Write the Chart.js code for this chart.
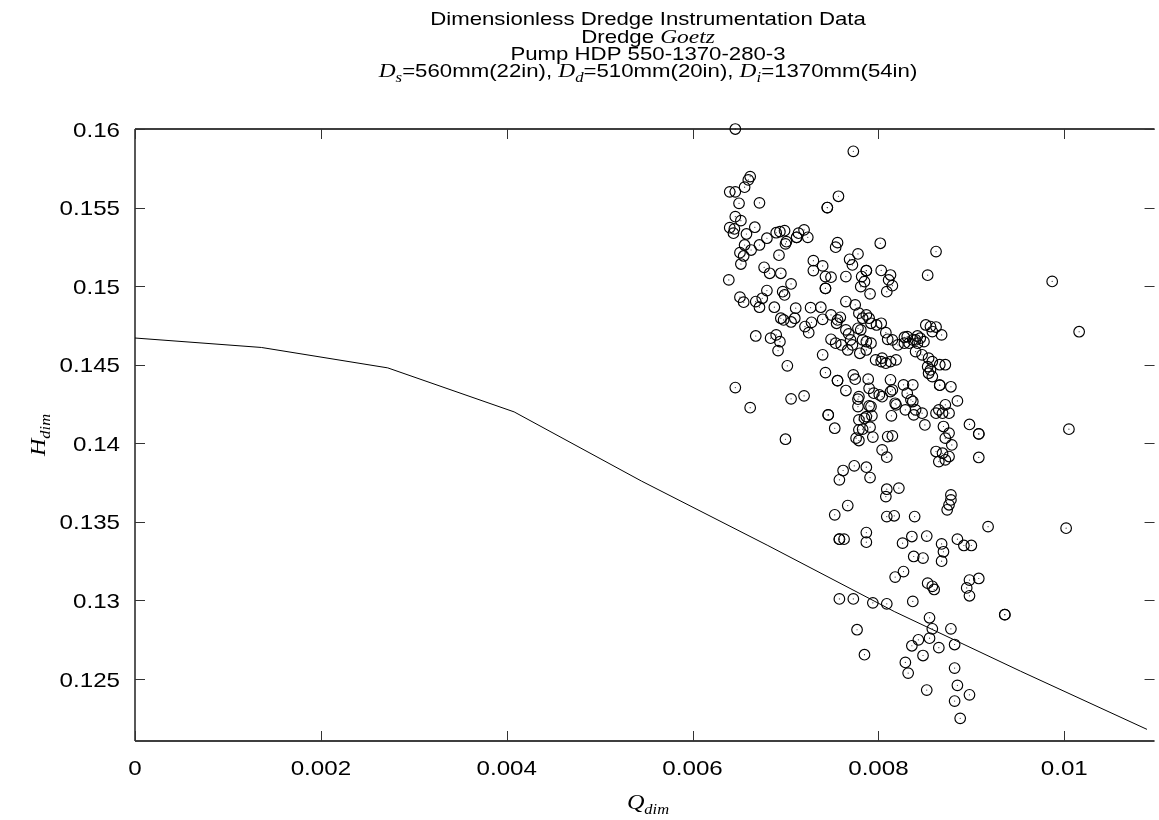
<!DOCTYPE html>
<html>
<head>
<meta charset="utf-8">
<script src="https://cdn.jsdelivr.net/npm/chart.js@4/dist/chart.umd.min.js"></script>
<style>
  html, body { margin: 0; padding: 0; background: #fff; }
  #wrap { width: 1159px; height: 820px; position: relative; }
</style>
</head>
<body>
<div id="wrap"><canvas id="c"></canvas></div>
<script>
// Axis ticks
const xTickValues = [0, 0.002, 0.004, 0.006, 0.008, 0.01];
const xTickLabels = ['0', '0.002', '0.004', '0.006', '0.008', '0.01'];
const yTickValues = [0.125, 0.13, 0.135, 0.14, 0.145, 0.15, 0.155, 0.16];
const yTickLabels = ['0.125', '0.13', '0.135', '0.14', '0.145', '0.15', '0.155', '0.16'];

// Pump characteristic curve (dimensionless flow, dimensionless head)
const pumpQ = [0, 0.00136, 0.00272, 0.00408, 0.00545, 0.00681, 0.00817, 0.00953, 0.01089];
const pumpH = [0.1467, 0.1461, 0.1448, 0.1420, 0.1376, 0.1335, 0.1293, 0.1255, 0.1218];

// Instrumentation readings [Q_dim, H_dim]
const measuredPoints = [
  [0.00646,0.16000],[0.00773,0.15858],[0.00662,0.15697],[0.00660,0.15676],[0.00656,0.15630],
  [0.00640,0.15600],[0.00646,0.15600],[0.00650,0.15527],[0.00672,0.15530],[0.00757,0.15572],
  [0.00745,0.15500],[0.00745,0.15500],[0.00646,0.15442],[0.00652,0.15417],[0.00640,0.15372],
  [0.00645,0.15364],[0.00644,0.15337],[0.00658,0.15332],[0.00667,0.15375],[0.00672,0.15262],
  [0.00656,0.15262],[0.00651,0.15213],[0.00655,0.15192],[0.00663,0.15230],[0.00652,0.15141],
  [0.00680,0.15305],[0.00690,0.15340],[0.00694,0.15347],[0.00699,0.15353],[0.00701,0.15283],
  [0.00700,0.15269],[0.00712,0.15311],[0.00712,0.15311],[0.00714,0.15337],[0.00720,0.15358],
  [0.00724,0.15311],[0.00693,0.15197],[0.00756,0.15277],[0.00754,0.15248],[0.00802,0.15273],
  [0.00778,0.15205],[0.00769,0.15171],[0.00772,0.15135],[0.00787,0.15099],[0.00787,0.15099],
  [0.00803,0.15100],[0.00813,0.15071],[0.00811,0.15040],[0.00815,0.15003],[0.00809,0.14965],
  [0.00730,0.15162],[0.00730,0.15099],[0.00740,0.15129],[0.00743,0.15061],[0.00749,0.15057],
  [0.00743,0.14986],[0.00743,0.14986],[0.00765,0.15061],[0.00782,0.15061],[0.00781,0.14997],
  [0.00785,0.15029],[0.00791,0.14951],[0.00677,0.15120],[0.00683,0.15082],[0.00695,0.15082],
  [0.00639,0.15040],[0.00706,0.15014],[0.00697,0.14965],[0.00699,0.14944],[0.00651,0.14930],
  [0.00655,0.14898],[0.00668,0.14902],[0.00672,0.14866],[0.00675,0.14923],[0.00680,0.14972],
  [0.00688,0.14866],[0.00711,0.14860],[0.00727,0.14863],[0.00738,0.14866],[0.00740,0.14789],
  [0.00728,0.14770],[0.00749,0.14817],[0.00759,0.14802],[0.00755,0.14764],[0.00695,0.14796],
  [0.00698,0.14785],[0.00706,0.14772],[0.00710,0.14796],[0.00668,0.14683],[0.00684,0.14669],
  [0.00690,0.14690],[0.00694,0.14647],[0.00692,0.14590],[0.00721,0.14743],[0.00725,0.14704],
  [0.00749,0.14662],[0.00760,0.14626],[0.00740,0.14563],[0.00765,0.14722],[0.00768,0.14696],
  [0.00770,0.14658],[0.00772,0.14626],[0.00778,0.14732],[0.00781,0.14722],[0.00783,0.14658],
  [0.00787,0.14647],[0.00792,0.14764],[0.00798,0.14753],[0.00803,0.14764],[0.00808,0.14704],
  [0.00810,0.14662],[0.00815,0.14658],[0.00821,0.14626],[0.00828,0.14675],[0.00833,0.14637],
  [0.00837,0.14658],[0.00840,0.14658],[0.00765,0.14902],[0.00775,0.14881],[0.00779,0.14828],
  [0.00783,0.14796],[0.00790,0.14796],[0.00787,0.14817],[0.00756,0.14785],[0.00754,0.14637],
  [0.00792,0.14637],[0.00767,0.14594],[0.00780,0.14573],[0.00787,0.14594],[0.00797,0.14531],
  [0.00803,0.14520],[0.00808,0.14510],[0.00813,0.14520],[0.00819,0.14531],[0.00804,0.14542],
  [0.00828,0.14637],[0.00831,0.14679],[0.00842,0.14683],[0.00845,0.14669],[0.00849,0.14647],
  [0.00842,0.14637],[0.00851,0.14753],[0.00856,0.14743],[0.00858,0.14711],[0.00840,0.14584],
  [0.00847,0.14563],[0.00854,0.14542],[0.00858,0.14520],[0.00853,0.14488],[0.00856,0.14467],
  [0.00854,0.14446],[0.00858,0.14425],[0.00779,0.14297],[0.00804,0.14297],[0.00813,0.14404],
  [0.00815,0.14340],[0.00835,0.14277],[0.00778,0.14234],[0.00792,0.14234],[0.00819,0.14245],
  [0.00829,0.14213],[0.00840,0.14213],[0.00847,0.14192],[0.00787,0.14170],[0.00850,0.14117],
  [0.00862,0.14192],[0.00865,0.14213],[0.00869,0.14192],[0.00872,0.14245],[0.00876,0.14192],
  [0.00862,0.13948],[0.00869,0.13937],[0.00872,0.13895],[0.00865,0.13884],[0.00876,0.13916],
  [0.00879,0.13990],[0.00872,0.14033],[0.00876,0.14065],[0.00870,0.14107],[0.00878,0.13672],
  [0.00878,0.13640],[0.00876,0.13609],[0.00874,0.13577],[0.00702,0.14493],[0.00743,0.14450],
  [0.00756,0.14399],[0.00756,0.14399],[0.00765,0.14336],[0.00773,0.14435],[0.00775,0.14408],
  [0.00789,0.14408],[0.00778,0.14281],[0.00790,0.14350],[0.00795,0.14319],[0.00801,0.14308],
  [0.00813,0.14329],[0.00818,0.14255],[0.00827,0.14372],[0.00831,0.14319],[0.00837,0.14372],
  [0.00837,0.14266],[0.00838,0.14181],[0.00790,0.14238],[0.00793,0.14175],[0.00814,0.14175],
  [0.00646,0.14355],[0.00662,0.14227],[0.00706,0.14283],[0.00720,0.14302],[0.00746,0.14181],
  [0.00746,0.14181],[0.00753,0.14096],[0.00700,0.14026],[0.00779,0.14149],[0.00785,0.14160],
  [0.00791,0.14103],[0.00779,0.14086],[0.00783,0.14090],[0.00776,0.14033],[0.00779,0.14018],
  [0.00794,0.14040],[0.00810,0.14043],[0.00815,0.14047],[0.00804,0.13958],[0.00809,0.13912],
  [0.00762,0.13827],[0.00758,0.13768],[0.00774,0.13857],[0.00787,0.13848],[0.00791,0.13782],
  [0.00767,0.13604],[0.00753,0.13545],[0.00809,0.13708],[0.00808,0.13661],[0.00822,0.13715],
  [0.00809,0.13534],[0.00817,0.13539],[0.00839,0.13534],[0.00758,0.13390],[0.00758,0.13390],
  [0.00763,0.13390],[0.00787,0.13432],[0.00787,0.13371],[0.00826,0.13365],[0.00836,0.13407],
  [0.00838,0.13280],[0.00827,0.13184],[0.00818,0.13149],[0.00794,0.12985],[0.00809,0.12979],
  [0.00758,0.13010],[0.00773,0.13010],[0.00837,0.12994],[0.00777,0.12814],[0.00785,0.12655],
  [0.00836,0.12712],[0.00829,0.12606],[0.00832,0.12538],
  [0.00853,0.15070],[0.00862,0.15220],[0.00862,0.14740],[0.00868,0.14690],[0.00866,0.14500],
  [0.00872,0.14500],[0.00866,0.14370],[0.00866,0.14370],[0.00878,0.14360],[0.00885,0.14270],
  [0.00908,0.14060],[0.00908,0.14060],[0.00898,0.14120],[0.00908,0.13910],[0.00918,0.13470],
  [0.00885,0.13390],[0.00892,0.13350],[0.00900,0.13350],[0.00868,0.13360],[0.00870,0.13310],
  [0.00868,0.13250],[0.00852,0.13410],[0.00848,0.13270],[0.00858,0.13090],[0.00853,0.13110],
  [0.00860,0.13070],[0.00855,0.12890],[0.00843,0.12750],[0.00858,0.12820],[0.00855,0.12760],
  [0.00865,0.12700],[0.00878,0.12820],[0.00882,0.12720],[0.00895,0.13080],[0.00898,0.13130],
  [0.00898,0.13030],[0.00908,0.13140],[0.00882,0.12570],[0.00885,0.12460],[0.00882,0.12360],
  [0.00888,0.12250],[0.00898,0.12400],[0.00852,0.12430],[0.00848,0.12650],[0.00936,0.12910],
  [0.00936,0.12910],[0.00987,0.15030],[0.01016,0.14710],[0.01005,0.14090],[0.01002,0.13460]
];

const SANS = '"Liberation Sans", Arial, Helvetica, sans-serif';
const SERIF = '"Liberation Serif", "Times New Roman", serif';

// Draws a run of text pieces (font, text, vertical shift), horizontally stretched by sx.
// align: 'center' | 'right' | 'left' relative to x
function drawRuns(ctx, runs, x, baseline, align, sx) {
  let total = 0;
  runs.forEach(r => { ctx.font = r.font; r.w = ctx.measureText(r.text).width; total += r.w; });
  let start = x;
  if (align === 'center') start = x - total * sx / 2;
  else if (align === 'right') start = x - total * sx;
  ctx.save();
  ctx.translate(start, baseline);
  ctx.scale(sx, 1);
  ctx.textAlign = 'left';
  ctx.textBaseline = 'alphabetic';
  let cx = 0;
  runs.forEach(r => {
    ctx.font = r.font;
    ctx.fillText(r.text, cx, r.dy || 0);
    cx += r.w;
  });
  ctx.restore();
}

const framePlugin = {
  id: 'frame',
  afterDatasetsDraw(chart) {
    const { ctx, chartArea: a, scales } = chart;
    const xs = scales.x, ys = scales.y;
    ctx.save();
    // border
    ctx.strokeStyle = '#000';
    ctx.lineWidth = 1.3;
    ctx.beginPath();
    ctx.moveTo(a.left, a.top); ctx.lineTo(a.right + 2, a.top);
    ctx.moveTo(a.left, a.top); ctx.lineTo(a.left, a.bottom);
    ctx.moveTo(a.left, a.bottom); ctx.lineTo(a.right + 2, a.bottom);
    ctx.stroke();
    // inward ticks, mirrored on the opposite sides
    ctx.strokeStyle = '#333';
    ctx.lineWidth = 1;
    ctx.beginPath();
    const tl = 10;
    xTickValues.forEach(v => {
      const px = Math.round(xs.getPixelForValue(v)) + 0.5;
      ctx.moveTo(px, a.bottom); ctx.lineTo(px, a.bottom - tl);
      ctx.moveTo(px, a.top); ctx.lineTo(px, a.top + tl);
    });
    yTickValues.forEach(v => {
      const py = Math.round(ys.getPixelForValue(v)) + 0.5;
      ctx.moveTo(a.left, py); ctx.lineTo(a.left + tl, py);
      ctx.moveTo(a.right + 2, py); ctx.lineTo(a.right + 2 - tl, py);
    });
    ctx.stroke();
    ctx.restore();
  },
  afterDraw(chart) {
    const { ctx, chartArea: a, scales } = chart;
    const xs = scales.x, ys = scales.y;
    ctx.save();
    ctx.fillStyle = '#000';

    // tick labels
    const tf = '21px ' + SANS;
    xTickValues.forEach((v, i) => {
      drawRuns(ctx, [{ font: tf, text: xTickLabels[i] }], xs.getPixelForValue(v), a.bottom + 34, 'center', 1.15);
    });
    yTickValues.forEach((v, i) => {
      drawRuns(ctx, [{ font: tf, text: yTickLabels[i] }], a.left - 15, ys.getPixelForValue(v) + 7.5, 'right', 1.15);
    });

    // title block
    const cx = 648;
    const f = '18.5px ' + SANS;
    const fi = 'italic 19.5px ' + SERIF;
    const fs = 'italic 14px ' + SERIF;
    drawRuns(ctx, [{ font: f, text: 'Dimensionless Dredge Instrumentation Data' }], cx, 25, 'center', 1.2);
    drawRuns(ctx, [{ font: f, text: 'Dredge ' }, { font: fi, text: 'Goetz' }], cx, 43, 'center', 1.2);
    drawRuns(ctx, [{ font: f, text: 'Pump HDP 550-1370-280-3' }], cx, 60, 'center', 1.2);
    drawRuns(ctx, [
      { font: fi, text: 'D' }, { font: fs, text: 's', dy: 5 }, { font: f, text: '=560mm(22in), ' },
      { font: fi, text: 'D' }, { font: fs, text: 'd', dy: 5 }, { font: f, text: '=510mm(20in), ' },
      { font: fi, text: 'D' }, { font: fs, text: 'i', dy: 5 }, { font: f, text: '=1370mm(54in)' }
    ], cx, 77, 'center', 1.2);

    // axis titles
    drawRuns(ctx, [{ font: 'italic 22px ' + SERIF, text: 'Q' }, { font: 'italic 15px ' + SERIF, text: 'dim', dy: 5 }], cx, 809, 'center', 1.1);
    ctx.translate(45, (a.top + a.bottom) / 2);
    ctx.rotate(-Math.PI / 2);
    drawRuns(ctx, [{ font: 'italic 22px ' + SERIF, text: 'H' }, { font: 'italic 15px ' + SERIF, text: 'dim', dy: 5 }], 0, 0, 'center', 1.1);
    ctx.restore();
  }
};

const pointData = measuredPoints.map(p => ({ x: p[0], y: p[1] }));

const chart = new Chart(document.getElementById('c'), {
  type: 'scatter',
  data: {
    datasets: [
      {
        label: 'pump curve',
        data: pumpQ.map((q, i) => ({ x: q, y: pumpH[i] })),
        showLine: true,
        borderColor: '#000',
        borderWidth: 1,
        pointRadius: 0,
        tension: 0,
        order: 3
      },
      {
        label: 'measured',
        data: pointData,
        pointStyle: 'circle',
        pointRadius: 5.3,
        borderWidth: 1.15,
        borderColor: '#000',
        backgroundColor: 'rgba(0,0,0,0)',
        clip: false,
        order: 2
      },
      {
        label: 'measured centre',
        data: pointData,
        pointStyle: 'circle',
        pointRadius: 0.6,
        borderWidth: 0,
        backgroundColor: '#333',
        clip: false,
        order: 1
      }
    ]
  },
  options: {
    responsive: true,
    maintainAspectRatio: false,
    animation: false,
    events: [],
    layout: { padding: { top: 129, right: 0, left: 0, bottom: 0 } },
    plugins: { legend: { display: false }, tooltip: { enabled: false }, title: { display: false } },
    scales: {
      x: {
        type: 'linear',
        min: 0,
        max: 0.01095,
        grid: { display: false, drawTicks: false, tickLength: 0 },
        border: { display: false },
        afterBuildTicks: s => { s.ticks = xTickValues.map(v => ({ value: v })); },
        afterFit: s => { s.height = 79; s.paddingLeft = 0; s.paddingRight = 0; },
        ticks: { display: false, autoSkip: false }
      },
      y: {
        type: 'linear',
        min: 0.12106,
        max: 0.16,
        grid: { display: false, drawTicks: false, tickLength: 0 },
        border: { display: false },
        afterBuildTicks: s => { s.ticks = yTickValues.map(v => ({ value: v })); },
        afterFit: s => { s.width = 135; s.paddingTop = 0; s.paddingBottom = 0; },
        ticks: { display: false, autoSkip: false }
      }
    }
  },
  plugins: [framePlugin]
});
</script>
</body>
</html>
